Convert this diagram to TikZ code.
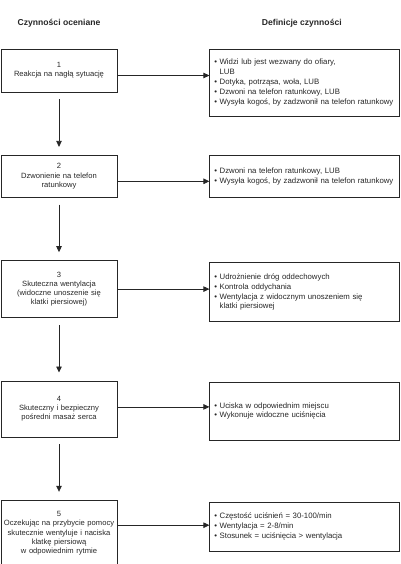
\documentclass[tikz,border=0pt]{standalone}
\usepackage{fontspec}
\setmainfont{Liberation Sans}
\usetikzlibrary{arrows.meta, positioning}
\tikzset{
  header/.style={font=\fontsize{8.6}{10}\selectfont\bfseries, text=black!85, inner sep=0pt},
  actbox/.style={rectangle, draw=black!85, line width=0.8pt, minimum width=116pt, text width=115pt, align=center, inner xsep=0.5pt, font=\fontsize{7.6}{9.2}\selectfont, text=black!85},
  defbox/.style={rectangle, draw=black!85, line width=0.8pt, minimum width=190pt, text width=181pt, align=left, inner xsep=4.5pt, font=\fontsize{7.8}{9.8}\selectfont, text=black!85},
  arrow/.style={line width=0.8pt, draw=black!85, -{Triangle[length=6pt, width=5.5pt]}}
}
\newcommand{\pkt}{\textbullet\ }
\newcommand{\wciecie}{\phantom{\textbullet}\ }

\begin{document}
\begin{tikzpicture}[node distance=62.5pt and 92pt]
  \useasboundingbox (0,0) rectangle (400pt,-564pt);

  % kolumna lewa: czynnosci oceniane
  \node (l1) [actbox, minimum height=43pt] at (59pt,-70.5pt) {1\\Reakcja na nagłą sytuację};
  \node (l2) [actbox, minimum height=42pt, below=of l1] {2\\Dzwonienie na telefon\\ratunkowy};
  \node (l3) [actbox, minimum height=57pt, below=of l2] {3\\Skuteczna wentylacja\\(widoczne unoszenie się\\klatki piersiowej)};
  \node (l4) [actbox, minimum height=56pt, below=of l3] {4\\Skuteczny i bezpieczny\\pośredni masaż serca};
  \node (l5) [actbox, minimum height=66pt, below=of l4] {5\\Oczekując na przybycie pomocy\\skutecznie wentyluje i naciska\\klatkę piersiową\\w odpowiednim rytmie};

  % kolumna prawa: definicje
  \node (r1) [defbox, minimum height=67pt, right=of l1.north east, anchor=north west] {\pkt Widzi lub jest wezwany do ofiary,\\\wciecie LUB\\\pkt Dotyka, potrząsa, woła, LUB\\\pkt Dzwoni na telefon ratunkowy, LUB\\\pkt Wysyła kogoś, by zadzwonił na telefon ratunkowy};
  \node (r2) [defbox, minimum height=42pt, right=of l2.north east, anchor=north west] {\pkt Dzwoni na telefon ratunkowy, LUB\\\pkt Wysyła kogoś, by zadzwonił na telefon ratunkowy};
  \node (r3) [defbox, minimum height=59pt, right=of l3.north east, anchor=north west, yshift=-2pt] {\pkt Udrożnienie dróg oddechowych\\\pkt Kontrola oddychania\\\pkt Wentylacja z widocznym unoszeniem się\\\wciecie klatki piersiowej};
  \node (r4) [defbox, minimum height=58pt, right=of l4.north east, anchor=north west, yshift=-1pt] {\pkt Uciska w odpowiednim miejscu\\\pkt Wykonuje widoczne uciśnięcia\\[6pt]};
  \node (r5) [defbox, minimum height=49pt, right=of l5.north east, anchor=north west, yshift=-2pt] {\pkt Częstość uciśnień = 30-100/min\\\pkt Wentylacja = 2-8/min\\\pkt Stosunek = uciśnięcia > wentylacja};

  % naglowki
  \node (hl) [header, above=21pt of l1] {Czynności oceniane};
  \node (hr) [header, above=21pt of r1, xshift=-3pt] {Definicje czynności};

  % strzalki w dol
  \draw [arrow, shorten <=7pt, shorten >=8pt] (l1) -- (l2);
  \draw [arrow, shorten <=7pt, shorten >=8pt] (l2) -- (l3);
  \draw [arrow, shorten <=7pt, shorten >=8pt] (l3) -- (l4);
  \draw [arrow, shorten <=7pt, shorten >=8pt] (l4) -- (l5);

  % strzalki w prawo
  \draw [arrow] ([yshift=-5pt]l1.east) -- ([yshift=-5pt]l1.east -| r1.west);
  \draw [arrow] ([yshift=-5pt]l2.east) -- ([yshift=-5pt]l2.east -| r2.west);
  \draw [arrow] ([yshift=0pt]l3.east) -- ([yshift=0pt]l3.east -| r3.west);
  \draw [arrow] ([yshift=2pt]l4.east) -- ([yshift=2pt]l4.east -| r4.west);
  \draw [arrow] ([yshift=8pt]l5.east) -- ([yshift=8pt]l5.east -| r5.west);

\end{tikzpicture}
\end{document}
